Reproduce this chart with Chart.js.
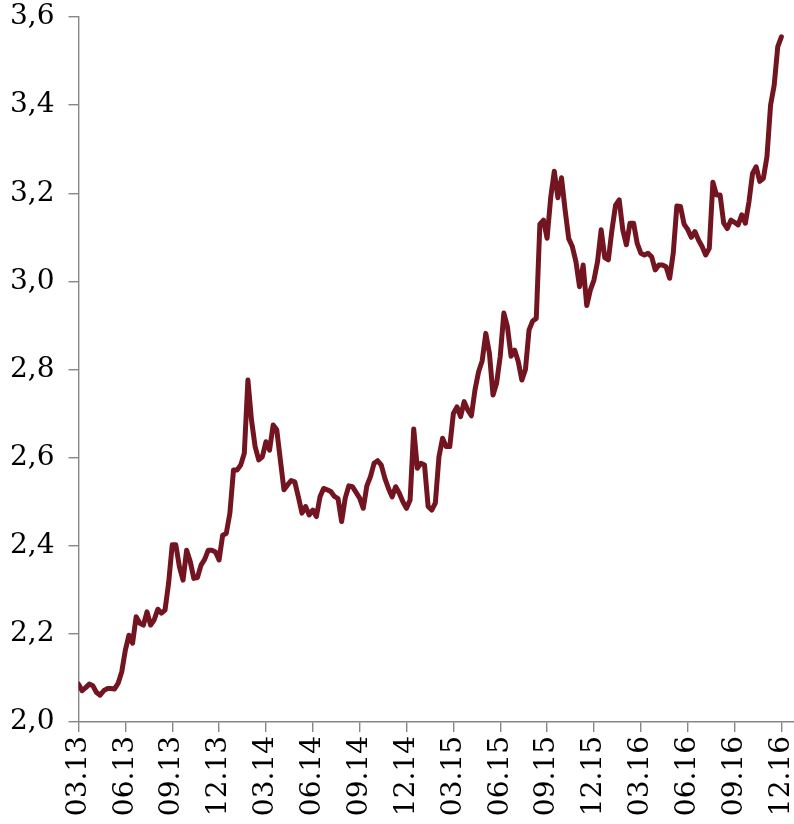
<!DOCTYPE html>
<html>
<head>
<meta charset="utf-8">
<script src="https://cdn.jsdelivr.net/npm/chart.js@4/dist/chart.umd.min.js"></script>
<style>
  html, body { margin: 0; padding: 0; background: #fff; }
  #wrap { width: 794px; height: 824px; }
</style>
</head>
<body>
<div id="wrap"><canvas id="rateChart"></canvas></div>
<script>
/* 분기 라벨 (x축) */
const quarterLabels = ['03.13', '06.13', '09.13', '12.13', '03.14', '06.14', '09.14', '12.14',
                       '03.15', '06.15', '09.15', '12.15', '03.16', '06.16', '09.16', '12.16'];
const weeksPerQuarter = 13;

/* y축 눈금 */
const yTicks = [2.0, 2.2, 2.4, 2.6, 2.8, 3.0, 3.2, 3.4, 3.6];

/* 주간 값 (03.13 부터) */
const rates = [
  2.086, 2.071, 2.078, 2.086, 2.082, 2.067, 2.061, 2.071, 2.076, 2.076,
  2.075, 2.088, 2.114, 2.163, 2.197, 2.179, 2.239, 2.224, 2.220, 2.250,
  2.220, 2.232, 2.256, 2.247, 2.254, 2.315, 2.402, 2.402, 2.352, 2.322,
  2.390, 2.364, 2.326, 2.328, 2.356, 2.369, 2.390, 2.390, 2.386, 2.368,
  2.424, 2.428, 2.474, 2.572, 2.572, 2.583, 2.610, 2.776, 2.685, 2.625,
  2.595, 2.602, 2.636, 2.617, 2.674, 2.663, 2.595, 2.527, 2.538, 2.548,
  2.545, 2.511, 2.474, 2.489, 2.470, 2.481, 2.466, 2.511, 2.530, 2.527,
  2.523, 2.512, 2.507, 2.455, 2.508, 2.536, 2.534, 2.521, 2.508, 2.485,
  2.536, 2.557, 2.587, 2.593, 2.583, 2.553, 2.530, 2.511, 2.534, 2.519,
  2.500, 2.485, 2.504, 2.665, 2.576, 2.587, 2.583, 2.489, 2.481, 2.497,
  2.602, 2.644, 2.625, 2.625, 2.700, 2.715, 2.693, 2.727, 2.708, 2.695,
  2.754, 2.795, 2.820, 2.882, 2.837, 2.742, 2.769, 2.830, 2.928, 2.897,
  2.830, 2.844, 2.818, 2.776, 2.800, 2.890, 2.910, 2.916, 3.130, 3.139,
  3.098, 3.190, 3.250, 3.190, 3.235, 3.162, 3.097, 3.079, 3.045, 2.988,
  3.037, 2.945, 2.980, 3.003, 3.045, 3.117, 3.054, 3.049, 3.117, 3.173,
  3.185, 3.117, 3.083, 3.132, 3.132, 3.086, 3.064, 3.060, 3.064, 3.056,
  3.026, 3.037, 3.037, 3.033, 3.007, 3.064, 3.171, 3.170, 3.130, 3.118,
  3.100, 3.113, 3.094, 3.079, 3.060, 3.075, 3.225, 3.196, 3.196, 3.132,
  3.120, 3.139, 3.134, 3.128, 3.151, 3.132, 3.180, 3.245, 3.260, 3.227,
  3.234, 3.283, 3.400, 3.445, 3.533, 3.555
];

const axisColor = '#868686';
const lineColor = '#731520';
const fontSpec = { family: "'DejaVu Serif', 'Liberation Serif', serif", size: 28, lineHeight: 1.0 };

const ctx = document.getElementById('rateChart').getContext('2d');

new Chart(ctx, {
    type: 'line',
    data: {
        datasets: [{
            data: rates.map((v, i) => ({ x: i, y: v })),
            borderColor: lineColor,
            borderWidth: 5,
            pointRadius: 0,
            tension: 0,
            borderJoinStyle: 'round',
            borderCapStyle: 'round',
            fill: false
        }]
    },
    options: {
        responsive: true,
        maintainAspectRatio: false,
        animation: false,
        layout: { padding: { top: 17, right: 0, bottom: 0, left: 0 } },
        plugins: {
            legend: { display: false },
            tooltip: { enabled: false }
        },
        scales: {
            x: {
                type: 'linear',
                min: 0,
                max: 198.5,
                afterBuildTicks: axis => {
                    axis.ticks = quarterLabels.map((l, i) => ({ value: i * weeksPerQuarter }));
                },
                afterFit: s => {
                    s.height = 102;
                    s.paddingLeft = 0;
                    s.paddingRight = 0;
                },
                border: { display: true, color: axisColor, width: 1.4 },
                grid: {
                    drawOnChartArea: false,
                    drawTicks: true,
                    tickLength: 10,
                    color: axisColor,
                    lineWidth: 1.4
                },
                ticks: {
                    autoSkip: false,
                    minRotation: 90,
                    maxRotation: 90,
                    padding: 4,
                    color: '#000',
                    font: fontSpec,
                    callback: value => quarterLabels[Math.round(value / weeksPerQuarter)]
                }
            },
            y: {
                min: 2.0,
                max: 3.6,
                afterBuildTicks: axis => {
                    axis.ticks = yTicks.map(v => ({ value: v }));
                },
                afterFit: s => {
                    s.width = 78.5;
                    s.paddingTop = 0;
                    s.paddingBottom = 0;
                },
                border: { display: true, color: axisColor, width: 1.4 },
                grid: {
                    drawOnChartArea: false,
                    drawTicks: true,
                    tickLength: 10,
                    color: axisColor,
                    lineWidth: 1.4
                },
                ticks: {
                    padding: 14,
                    color: '#000',
                    font: fontSpec,
                    callback: value => Number(value).toFixed(1).replace('.', ',')
                }
            }
        }
    }
});
</script>
</body>
</html>
